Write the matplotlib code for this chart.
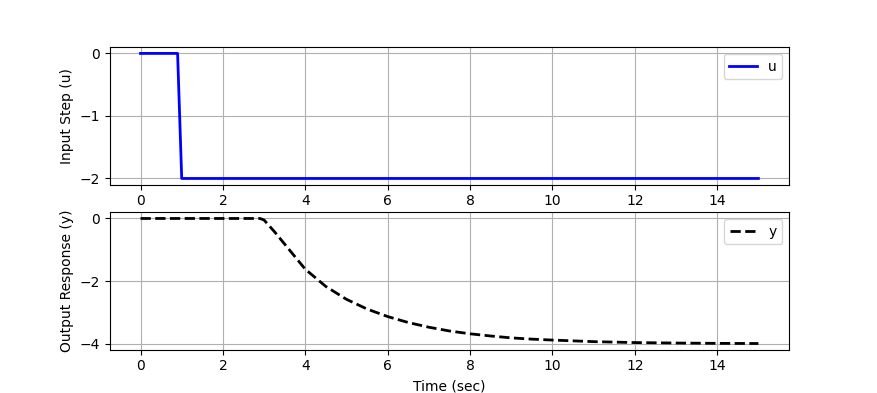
import numpy as np
import matplotlib.pyplot as plt

# input step
t_u = [0.0, 0.9, 1.0, 15.0]
u = [0.0, 0.0, -2.0, -2.0]

# output response
t_y = [0.0, 2.9, 3.0, 3.25, 3.5, 3.75, 4.0, 4.5, 5.0, 5.5, 6.0, 6.5, 7.0, 7.5,
       8.0, 8.5, 9.0, 9.5, 10.0, 11.0, 12.0, 13.0, 14.0, 15.0]
y = [0.0, 0.0, -0.05, -0.42, -0.82, -1.22, -1.62, -2.17, -2.58, -2.89, -3.13,
     -3.32, -3.47, -3.59, -3.68, -3.75, -3.81, -3.85, -3.88, -3.93, -3.96,
     -3.975, -3.985, -3.99]

plt.figure(figsize=(8.77, 3.93), dpi=100)

plt.subplot(2, 1, 1)
plt.plot(t_u, u, 'b-', lw=2, label='u')
plt.grid()
plt.ylabel('Input Step (u)')
plt.legend()

plt.subplot(2, 1, 2)
plt.plot(t_y, y, 'k--', lw=2, label='y')
plt.grid()
plt.ylabel('Output Response (y)')
plt.xlabel('Time (sec)')
plt.legend()

plt.savefig('out.png', dpi=100)
